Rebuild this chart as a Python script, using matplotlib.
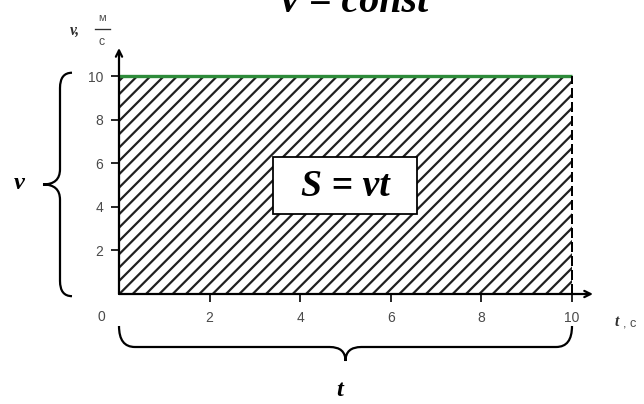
import matplotlib
matplotlib.use("Agg")
import matplotlib.pyplot as plt
from matplotlib.path import Path
from matplotlib.patches import PathPatch, Rectangle
from matplotlib.lines import Line2D

# ---- data ----
t_values = [0, 10]
v_values = [10, 10]
x_ticks = [2, 4, 6, 8, 10]
y_ticks = [2, 4, 6, 8, 10]
t_max = 10
v_const = 10

DPI = 80
W, H = 644, 404
fig = plt.figure(figsize=(W / DPI, H / DPI), dpi=DPI)
plt.rcParams['hatch.linewidth'] = 2.0

# pixel layout
ox, oy = 119, 294          # origin (pixels, from top-left)
x10, y10 = 572, 76         # pixel positions of 10
ax_right, ax_top = 593, 48  # arrow tips
sx = (x10 - ox) / 10.0
sy = (oy - y10) / 10.0
ax = fig.add_axes([ox / W, (H - oy) / H, (ax_right - ox) / W, (oy - ax_top) / H])
ax.set_xlim(0, (ax_right - ox) / sx)
ax.set_ylim(0, (oy - ax_top) / sy)
for s in ax.spines.values():
    s.set_visible(False)
ax.patch.set_alpha(0)

serif = ['Liberation Serif', 'DejaVu Serif']
sans = ['Liberation Sans', 'DejaVu Sans']
gray = '#4a4a4a'

# hatched area
ax.fill_between(t_values, 0, v_values, facecolor='white', edgecolor='#202020',
                hatch='//', linewidth=0, zorder=1)
# green line v = const
ax.plot(t_values, v_values, color='#2e8b3a', lw=3, zorder=3, solid_capstyle='butt')
# dashed right edge
ax.plot([t_max, t_max], [0, v_const], color='black', lw=1.8, ls=(0, (5, 2)), zorder=3)

# axes arrows
ax.annotate('', xy=(1, 0), xytext=(0, 0), xycoords='axes fraction',
            arrowprops=dict(arrowstyle='->', lw=2, color='black', shrinkA=0, shrinkB=0,
                            mutation_scale=14), zorder=4)
ax.annotate('', xy=(0, 1), xytext=(0, 0), xycoords='axes fraction',
            arrowprops=dict(arrowstyle='->', lw=2, color='black', shrinkA=0, shrinkB=0,
                            mutation_scale=14), zorder=4)

ax.set_xticks(x_ticks)
ax.set_yticks(y_ticks)
ax.set_xticklabels([str(v) for v in x_ticks], fontfamily=sans, fontsize=12.5, color=gray)
ax.set_yticklabels([str(v) for v in y_ticks], fontfamily=sans, fontsize=12.5, color=gray)
ax.tick_params(axis='x', direction='out', length=7, width=1.5, pad=8)
ax.tick_params(axis='y', direction='out', length=7, width=1.5, pad=7)
ax.text(-0.38, -1.05, '0', fontfamily=sans, fontsize=12.5, color=gray,
        ha='center', va='center', clip_on=False)

# S = vt box
bw, bh = 144 / sx, 57 / sy
ax.add_patch(Rectangle((t_max / 2 - bw / 2, v_const / 2 - bh / 2), bw, bh,
                       facecolor='white', edgecolor='black', lw=1.6, zorder=5))
ax.text(t_max / 2, v_const / 2 - 0.05, 'S = vt', fontfamily=serif, fontweight='bold',
        fontstyle='italic', fontsize=34, ha='center', va='center', zorder=6)

# braces
def hbrace(x0, x1, y_end, y_line, y_tip, r):
    xm = (x0 + x1) / 2
    verts = [(x0, y_end), (x0, y_line), (x0 + r, y_line),
             (xm - r, y_line), (xm, y_line), (xm, y_tip),
             (xm, y_line), (xm + r, y_line),
             (x1 - r, y_line), (x1, y_line), (x1, y_end)]
    codes = [Path.MOVETO, Path.CURVE3, Path.CURVE3,
             Path.LINETO, Path.CURVE3, Path.CURVE3,
             Path.CURVE3, Path.CURVE3,
             Path.LINETO, Path.CURVE3, Path.CURVE3]
    return Path(verts, codes)

def vbrace(y0, y1, x_end, x_line, x_tip, r):
    p = hbrace(y0, y1, x_end, x_line, x_tip, r)
    return Path([(b, a) for a, b in p.vertices], p.codes)

bb = hbrace(0, t_max, (oy - 326) / sy, (oy - 347) / sy, (oy - 361) / sy, 0.35)
ax.add_patch(PathPatch(bb, facecolor='none', edgecolor='black', lw=2, clip_on=False))
lb = vbrace(-0.1, v_const + 0.15, (72 - ox) / sx, (60 - ox) / sx, (43 - ox) / sx, 0.7)
ax.add_patch(PathPatch(lb, facecolor='none', edgecolor='black', lw=2, clip_on=False))

# labels
fig.text(19 / W, 1 - 184 / H, 'v', fontfamily=serif, fontweight='bold', fontstyle='italic',
         fontsize=22, ha='center', va='center')
fig.text(340 / W, 1 - 390 / H, 't', fontfamily=serif, fontweight='bold', fontstyle='italic',
         fontsize=22, ha='center', va='center')
fig.text(617 / W, 1 - 322 / H, 't', fontfamily=serif, fontweight='bold', fontstyle='italic',
         fontsize=14, ha='center', va='center', color='#303030')
fig.text(623 / W, 1 - 323 / H, ', с', fontfamily=sans, fontsize=11.5, ha='left', va='center',
         color=gray)
fig.text(75 / W, 1 - 31 / H, 'v,', fontfamily=serif, fontweight='bold', fontstyle='italic',
         fontsize=14, ha='center', va='center', color='#303030')
fig.text(102 / W, 1 - 18 / H, 'м', fontfamily=sans, fontsize=10, ha='center', va='center',
         color=gray)
fig.text(102 / W, 1 - 42 / H, 'с', fontfamily=sans, fontsize=11, ha='center', va='center',
         color=gray)
fig.add_artist(Line2D([95 / W, 110 / W], [1 - 29 / H, 1 - 29 / H], color='#303030', lw=1.2))

# title (cut off at top, as in the reference)
fig.text(355 / W, 1 - 12 / H, 'v = const', fontfamily=serif, fontweight='bold',
         fontstyle='italic', fontsize=36, ha='center', va='baseline')

fig.savefig('out.png', dpi=DPI)
